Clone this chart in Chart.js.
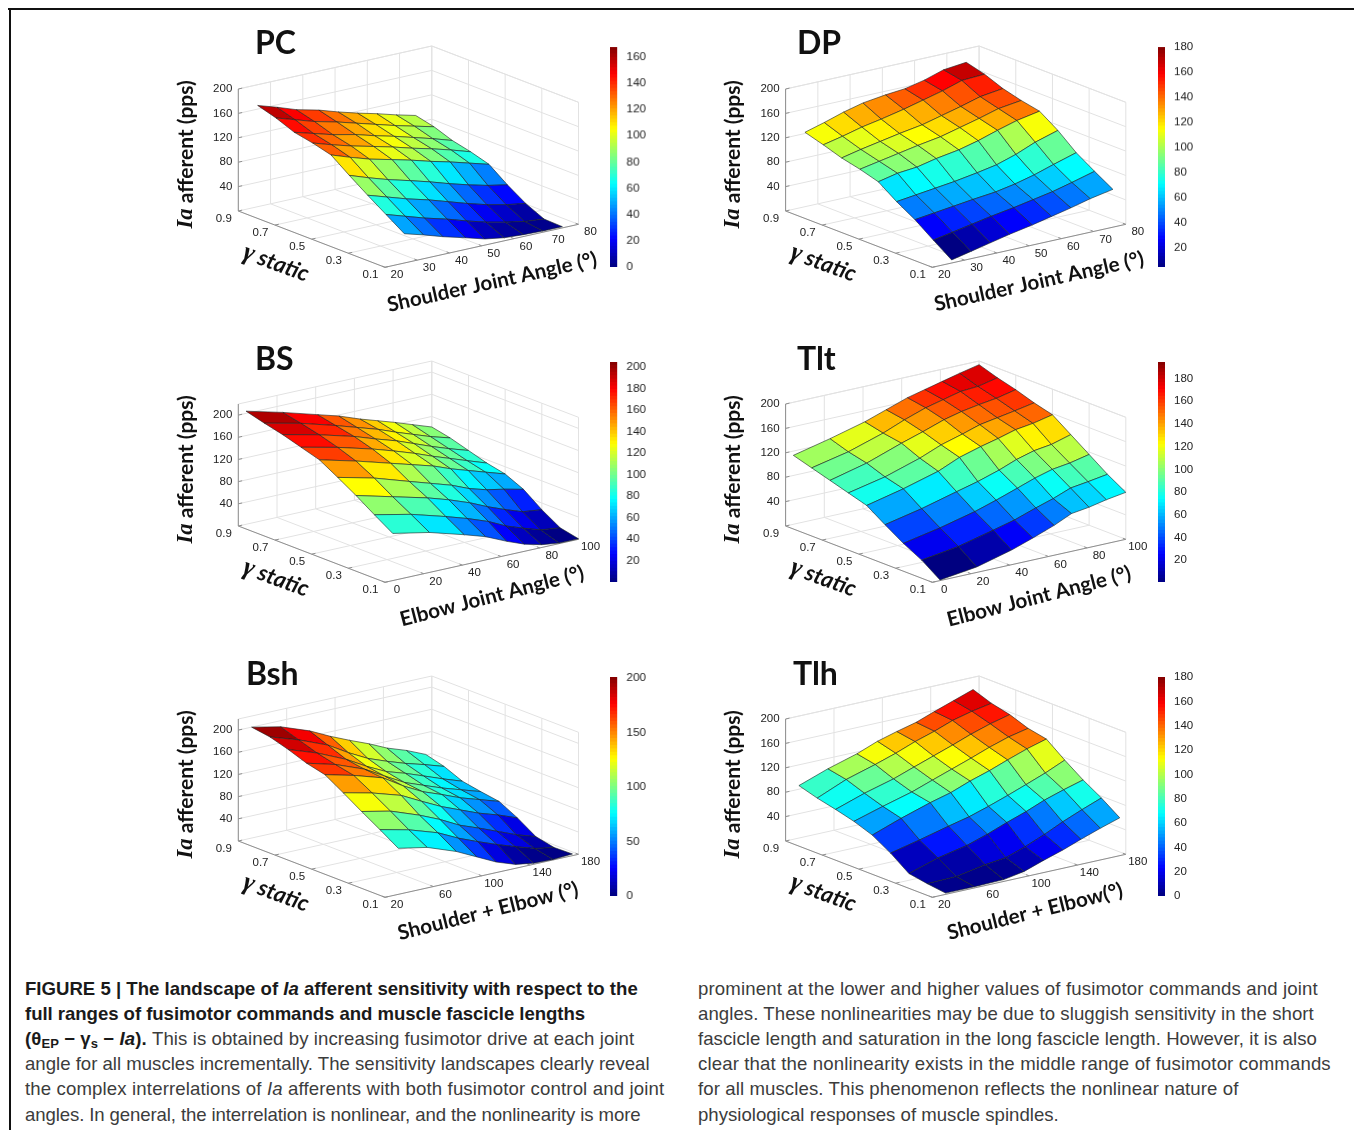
<!DOCTYPE html>
<html>
<head>
<meta charset="utf-8">
<title>Figure 5</title>
<script src="https://cdn.jsdelivr.net/npm/chart.js@4"></script>
<style>
  html, body { margin: 0; padding: 0; background: #fff; }
  body { position: relative; width: 1354px; height: 1130px; overflow: hidden; }
  canvas { position: absolute; display: block; }
  #frameTop { position: absolute; left: 8px; top: 8px; width: 1346px; height: 2px; background: #111; }
  #frameLeft { position: absolute; left: 9px; top: 8px; width: 1.5px; height: 1122px; background: #111; }
  .cap { position: absolute; white-space: nowrap; font: 18.6px/20px "Liberation Sans", sans-serif; color: #3c3c3c; }
  .cap b { color: #1a1a1a; }
  .cap sub { font-size: 13px; line-height: 0; vertical-align: -3px; }
</style>
</head>
<body>
<div id="frameTop"></div>
<div id="frameLeft"></div>
<script>
// gamma static runs front to back, angle runs left to right inside each row
const gammaValues = [0.1, 0.2, 0.3, 0.4, 0.5, 0.6, 0.7, 0.8, 0.9];
const gammaTicks = [0.1, 0.3, 0.5, 0.7, 0.9];

const pcAngles = [26, 32, 38, 45, 51, 57, 63, 69, 75];
const pcValues = [
  [48, 39, 29, 19, 10, 5, 3, 2, 2],
  [68, 58, 48, 38, 28, 19, 12, 6, 3],
  [88, 78, 68, 58, 48, 38, 29, 22, 17],
  [109, 98, 88, 78, 69, 59, 50, 42, 36],
  [131, 120, 110, 101, 93, 84, 76, 67, 58],
  [139, 129, 120, 111, 103, 94, 86, 77, 67],
  [145, 136, 127, 119, 110, 102, 93, 84, 74],
  [157, 147, 137, 128, 119, 110, 101, 93, 85],
  [166, 156, 145, 136, 126, 117, 109, 100, 92]
];
const dpAngles = [26, 32, 38, 44, 51, 57, 63, 69, 76];
const dpValues = [
  [5, 12, 19, 26, 33, 40, 47, 55, 62],
  [26, 32, 38, 44, 50, 56, 62, 70, 80],
  [48, 52, 56, 60, 64, 70, 78, 88, 99],
  [66, 70, 74, 78, 84, 90, 100, 113, 124],
  [87, 94, 97, 104, 110, 118, 128, 137, 144],
  [96, 102, 108, 114, 120, 128, 136, 145, 150],
  [103, 110, 116, 122, 128, 136, 144, 153, 158],
  [113, 120, 128, 134, 142, 150, 158, 168, 170],
  [122, 131, 141, 149, 154, 157, 164, 174, 178]
];
const bsAngles = [4, 23, 41, 52, 63, 72, 81, 90, 100];
const bsValues = [
  [85, 72, 54, 42, 25, 13, 5, 1, 1],
  [106, 92, 74, 62, 48, 33, 22, 12, 8],
  [128, 111, 95, 83, 69, 55, 43, 32, 28],
  [148, 132, 112, 100, 88, 75, 66, 60, 52],
  [167, 150, 132, 121, 110, 98, 88, 78, 67],
  [177, 162, 145, 133, 120, 108, 97, 86, 74],
  [187, 172, 155, 142, 130, 118, 106, 95, 84],
  [195, 180, 162, 150, 138, 126, 115, 104, 94],
  [204, 187, 169, 158, 144, 134, 124, 113, 101]
];
const tltAngles = [4, 23, 41, 52, 63, 72, 81, 90, 100];
const tltValues = [
  [1, 9, 24, 36, 49, 62, 66, 72, 77],
  [22, 31, 45, 54, 66, 75, 86, 90, 95],
  [38, 50, 64, 75, 87, 97, 105, 109, 116],
  [57, 70, 85, 94, 105, 116, 124, 128, 137],
  [77, 91, 107, 122, 132, 139, 147, 151, 158],
  [86, 99, 117, 131, 141, 150, 155, 160, 166],
  [95, 110, 130, 141, 153, 160, 165, 169, 176],
  [104, 117, 135, 149, 161, 168, 175, 177, 184],
  [113, 127, 142, 154, 166, 173, 180, 187, 194]
];
const bshAngles = [31, 55, 79, 96, 112, 128, 143, 159, 175];
const bshValues = [
  [83, 73, 54, 36, 19, 7, 2, 1, 3],
  [104, 92, 75, 57, 43, 30, 19, 8, 2],
  [124, 113, 94, 78, 60, 47, 34, 20, 9],
  [145, 133, 117, 98, 81, 67, 54, 43, 30],
  [165, 152, 136, 113, 95, 82, 69, 58, 47],
  [173, 159, 139, 118, 99, 86, 74, 63, 52],
  [185, 167, 144, 123, 106, 95, 83, 70, 58],
  [195, 178, 157, 135, 117, 104, 93, 83, 72],
  [200, 189, 170, 152, 137, 123, 108, 96, 81]
];
const tlhAngles = [31, 55, 79, 96, 112, 128, 143, 159, 175];
const tlhValues = [
  [2, 2, 3, 9, 20, 30, 41, 52, 62],
  [6, 7, 16, 20, 31, 44, 58, 71, 83],
  [11, 26, 36, 47, 59, 70, 82, 92, 101],
  [33, 44, 56, 64, 74, 85, 96, 108, 122],
  [51, 68, 83, 92, 104, 114, 125, 136, 145],
  [62, 76, 89, 101, 112, 123, 134, 144, 151],
  [70, 86, 99, 111, 122, 133, 144, 154, 162],
  [77, 97, 111, 122, 134, 144, 155, 163, 169],
  [86, 103, 117, 130, 139, 147, 158, 169, 180]
];

const titles = ['PC', 'DP', 'BS', 'Tlt', 'Bsh', 'Tlh'];
const xTitles = ['Shoulder Joint Angle (°)', 'Shoulder Joint Angle (°)', 'Elbow Joint Angle (°)',
  'Elbow Joint Angle (°)', 'Shoulder + Elbow (°)', 'Shoulder + Elbow(°)'];
const angleGrids = [pcAngles, dpAngles, bsAngles, tltAngles, bshAngles, tlhAngles];
const valueGrids = [pcValues, dpValues, bsValues, tltValues, bshValues, tlhValues];
const angleTicks = [
  [20, 30, 40, 50, 60, 70, 80], [20, 30, 40, 50, 60, 70, 80],
  [0, 20, 40, 60, 80, 100], [0, 20, 40, 60, 80, 100],
  [20, 60, 100, 140, 180], [20, 60, 100, 140, 180]
];
const zTicks = [40, 80, 120, 160, 200];
const zMax = [200, 200, 220, 200, 220, 200];

const colorMin = [0, 4.5, 0.3, 0.9, 0, 0];
const colorMax = [167.5, 180, 204.5, 194.5, 201, 180];
const colorTicks = [
  [0, 20, 40, 60, 80, 100, 120, 140, 160],
  [20, 40, 60, 80, 100, 120, 140, 160, 180],
  [20, 40, 60, 80, 100, 120, 140, 160, 180, 200],
  [20, 40, 60, 80, 100, 120, 140, 160, 180],
  [0, 50, 100, 150, 200],
  [0, 20, 40, 60, 80, 100, 120, 140, 160, 180]
];

const captionLeft = [
  '<b>FIGURE 5 | The landscape of <i>Ia</i> afferent sensitivity with respect to the</b>',
  '<b>full ranges of fusimotor commands and muscle fascicle lengths</b>',
  '<b>(θ<sub>EP</sub> − γ<sub>s</sub> − <i>Ia</i>).</b> This is obtained by increasing fusimotor drive at each joint',
  'angle for all muscles incrementally. The sensitivity landscapes clearly reveal',
  'the complex interrelations of <i>Ia</i> afferents with both fusimotor control and joint',
  'angles. In general, the interrelation is nonlinear, and the nonlinearity is more'
];
const captionRight = [
  'prominent at the lower and higher values of fusimotor commands and joint',
  'angles. These nonlinearities may be due to sluggish sensitivity in the short',
  'fascicle length and saturation in the long fascicle length. However, it is also',
  'clear that the nonlinearity exists in the middle range of fusimotor commands',
  'for all muscles. This phenomenon reflects the nonlinear nature of',
  'physiological responses of muscle spindles.'
];

// layout in page pixels
const panelLeft = [160, 700, 160, 700, 160, 700];
const panelTop = [15, 15, 335, 335, 650, 650];
const panelW = 450, panelH = 310;
const frontX = [225, 232.3, 225, 232.3, 225, 232.3];
const frontY = [252.3, 252.3, 247.3, 247.3, 247.3, 247.3];
const gammaDir = [-146.7, -56.3];
const angleDir = [193.5, -43];
const wallHeight = 122;
const titleX = [95, 97, 95, 97, 86, 93];
const titleY = [39, 39, 35, 35, 35, 35];
const xTitleOffset = [[107, 15], [106.7, 14.4], [107, 14], [106.7, 14.4], [103, 14], [102.7, 14.4]];
const xTitleAngle = [-12.5, -12.5, -14.5, -14.5, -14, -14];
const barLeft = [610, 1157.7, 610, 1157.7, 610, 1157.7];
const barTop = [47.3, 47.3, 361.7, 361.7, 676.7, 676.7];
const barHeight = [219.4, 219.4, 220, 220, 219.3, 219.3];
const barWidth = 7.8;
const colorLevels = 64;
const captionLeftSpacing = [0, -0.05, 0.08, 0, 0.14, -0.11];
const captionRightSpacing = [0.14, 0.07, 0.05, 0.14, 0.1, 0];

function jet(t) {
  const c = v => Math.round(255 * Math.max(0, Math.min(1, v)));
  const r = c(1.5 - Math.abs(4 * t - 3));
  const g = c(1.5 - Math.abs(4 * t - 2));
  const b = c(1.5 - Math.abs(4 * t - 1));
  return `rgb(${r},${g},${b})`;
}

function makeCanvas(left, top, width, height) {
  const canvas = document.createElement('canvas');
  canvas.width = width;
  canvas.height = height;
  canvas.style.left = left + 'px';
  canvas.style.top = top + 'px';
  canvas.style.width = width + 'px';
  canvas.style.height = height + 'px';
  canvas.style.filter = 'blur(0.45px)';
  document.body.appendChild(canvas);
  return canvas;
}

// text pieces with different fonts, centred on one point and rotated
function drawRuns(ctx, runs, x, y, degrees) {
  ctx.save();
  ctx.translate(x, y);
  ctx.rotate(degrees * Math.PI / 180);
  ctx.textBaseline = 'middle';
  ctx.textAlign = 'left';
  let total = 0;
  runs.forEach(run => { ctx.font = run.font; total += ctx.measureText(run.text).width; });
  let pos = -total / 2;
  runs.forEach(run => {
    ctx.font = run.font;
    ctx.fillStyle = '#111';
    ctx.fillText(run.text, pos, 0);
    pos += ctx.measureText(run.text).width;
  });
  ctx.restore();
}

function drawPanel(p) {
  const angles = angleGrids[p];
  const grid = valueGrids[p];
  const aTicks = angleTicks[p];
  const aMin = aTicks[0], aMax = aTicks[aTicks.length - 1];

  // parallel projection of gamma, angle, pps to the plot plane
  const project = (gamma, angle, z) => {
    const g = (gamma - 0.1) / 0.8;
    const a = (angle - aMin) / (aMax - aMin);
    return {
      x: frontX[p] + g * gammaDir[0] + a * angleDir[0],
      y: frontY[p] + g * gammaDir[1] + a * angleDir[1] - z / zMax[p] * wallHeight
    };
  };
  const lineSet = (points, color, width) => ({
    data: points, showLine: true, fill: false, borderColor: color, borderWidth: width,
    pointRadius: 0, tension: 0, backgroundColor: 'transparent'
  });

  const datasets = [];

  // first dataset is painted last, so nearest cells go first
  for (let i = 0; i < gammaValues.length - 1; i++) {
    for (let j = angles.length - 2; j >= 0; j--) {
      const t = (grid[i][j] - colorMin[p]) / (colorMax[p] - colorMin[p]);
      datasets.push({
        data: [
          project(gammaValues[i], angles[j], grid[i][j]),
          project(gammaValues[i], angles[j + 1], grid[i][j + 1]),
          project(gammaValues[i + 1], angles[j + 1], grid[i + 1][j + 1]),
          project(gammaValues[i + 1], angles[j], grid[i + 1][j]),
          project(gammaValues[i], angles[j], grid[i][j])
        ],
        showLine: true, fill: 'shape', backgroundColor: jet(t),
        borderColor: 'rgba(25,35,35,0.75)', borderWidth: 0.8, pointRadius: 0, tension: 0
      });
    }
  }

  const axisColor = '#8f8f8f', gridColor = '#e2e2e2';
  const top = zMax[p];
  // axis edges and their ticks
  datasets.push(lineSet([project(0.1, aMin, 0), project(0.9, aMin, 0)], axisColor, 1));
  datasets.push(lineSet([project(0.1, aMin, 0), project(0.1, aMax, 0)], axisColor, 1));
  datasets.push(lineSet([project(0.9, aMin, 0), project(0.9, aMin, top)], axisColor, 1));
  gammaTicks.forEach(g => datasets.push(lineSet([project(g, aMin, 0), project(g, aMin + (aMax - aMin) * 0.02, 0)], axisColor, 1)));
  aTicks.forEach(a => datasets.push(lineSet([project(0.1, a, 0), project(0.116, a, 0)], axisColor, 1)));
  zTicks.forEach(z => datasets.push(lineSet([project(0.9, aMin, z), project(0.9, aMin + (aMax - aMin) * 0.02, z)], axisColor, 1)));

  // floor and back walls
  gammaTicks.forEach(g => {
    datasets.push(lineSet([project(g, aMin, 0), project(g, aMax, 0)], gridColor, 1));
    datasets.push(lineSet([project(g, aMax, 0), project(g, aMax, top)], gridColor, 1));
  });
  aTicks.forEach(a => {
    datasets.push(lineSet([project(0.1, a, 0), project(0.9, a, 0)], gridColor, 1));
    datasets.push(lineSet([project(0.9, a, 0), project(0.9, a, top)], gridColor, 1));
  });
  zTicks.concat(top).forEach(z => {
    datasets.push(lineSet([project(0.9, aMin, z), project(0.9, aMax, z)], gridColor, 1));
    datasets.push(lineSet([project(0.9, aMax, z), project(0.1, aMax, z)], gridColor, 1));
  });

  const panelText = {
    id: 'panelText',
    afterDraw(chart) {
      const ctx = chart.ctx;
      const sx = chart.scales.x, sy = chart.scales.y;
      const at = pt => [sx.getPixelForValue(pt.x), sy.getPixelForValue(pt.y)];

      ctx.save();
      ctx.fillStyle = '#222';
      ctx.font = '11.5px "Liberation Sans"';
      ctx.textBaseline = 'middle';
      ctx.textAlign = 'right';
      zTicks.forEach(z => {
        const [x, y] = at(project(0.9, aMin, z));
        ctx.fillText(z, x - 6, y);
      });
      ctx.textAlign = 'center';
      gammaTicks.forEach(g => {
        const [x, y] = at(project(g, aMin, 0));
        ctx.fillText(g.toFixed(1), x - 14.5, y + 8);
      });
      aTicks.forEach(a => {
        const [x, y] = at(project(0.1, a, 0));
        ctx.fillText(a, x + 12, y + 8);
      });
      ctx.restore();

      ctx.save();
      ctx.fillStyle = '#111';
      ctx.font = 'bold 32px Lato';
      ctx.textBaseline = 'alphabetic';
      ctx.fillText(titles[p], titleX[p], titleY[p]);
      ctx.restore();

      const fx = frontX[p], fy = frontY[p];
      drawRuns(ctx, [
        { text: 'Ia', font: 'italic bold 22.5px "Liberation Serif"' },
        { text: ' afferent (pps)', font: 'bold 21px Lato' }
      ], fx - 199, fy - 113, -90);
      drawRuns(ctx, [
        { text: 'γ', font: 'italic bold 26px "Liberation Serif"' },
        { text: ' static', font: 'italic bold 22.5px Lato' }
      ], fx - 109, fy - 4, 20);
      drawRuns(ctx, [{ text: xTitles[p], font: 'bold 20.6px Lato' }],
        fx + xTitleOffset[p][0], fy + xTitleOffset[p][1], xTitleAngle[p]);
    }
  };

  new Chart(makeCanvas(panelLeft[p], panelTop[p], panelW, panelH), {
    type: 'scatter',
    data: { datasets },
    options: {
      responsive: false,
      animation: false,
      events: [],
      layout: { padding: 0 },
      plugins: { legend: { display: false }, tooltip: { enabled: false } },
      scales: {
        x: { type: 'linear', min: 0, max: panelW, display: false },
        y: { type: 'linear', min: 0, max: panelH, reverse: true, display: false }
      }
    },
    plugins: [panelText]
  });
}

function drawColorbar(p) {
  const step = (colorMax[p] - colorMin[p]) / colorLevels;
  const datasets = [];
  for (let k = 0; k < colorLevels; k++) {
    const lo = colorMin[p] + k * step;
    datasets.push({
      data: [[lo, lo + step * 1.05]],
      backgroundColor: jet((k + 0.5) / colorLevels),
      borderWidth: 0, barPercentage: 1, categoryPercentage: 1, grouped: false
    });
  }
  const labelWidth = 36;
  const pad = 10;
  new Chart(makeCanvas(barLeft[p], barTop[p] - pad, barWidth + labelWidth, barHeight[p] + 2 * pad), {
    type: 'bar',
    data: { labels: [''], datasets },
    options: {
      responsive: false,
      animation: false,
      events: [],
      layout: { padding: { top: pad, bottom: pad, left: 0, right: 0 } },
      plugins: { legend: { display: false }, tooltip: { enabled: false } },
      scales: {
        x: { display: false },
        y: {
          position: 'right',
          min: colorMin[p],
          max: colorMax[p],
          grid: { display: false },
          border: { display: false },
          afterFit: scale => { scale.width = labelWidth; },
          afterBuildTicks: scale => { scale.ticks = colorTicks[p].map(value => ({ value })); },
          ticks: {
            color: '#222', padding: 1, autoSkip: false,
            font: { family: '"Liberation Sans"', size: 11.5 },
            callback: value => value
          }
        }
      }
    }
  });
}

function addCaption(lines, spacing, left) {
  lines.forEach((html, idx) => {
    const div = document.createElement('div');
    div.className = 'cap';
    div.style.left = left + 'px';
    div.style.top = (979 + idx * 25.1) + 'px';
    div.style.letterSpacing = spacing[idx] + 'px';
    div.innerHTML = html;
    document.body.appendChild(div);
  });
}

document.fonts.ready.then(() => {
  titles.forEach((title, p) => {
    drawPanel(p);
    drawColorbar(p);
  });
  addCaption(captionLeft, captionLeftSpacing, 25);
  addCaption(captionRight, captionRightSpacing, 698);
});
</script>
</body>
</html>
